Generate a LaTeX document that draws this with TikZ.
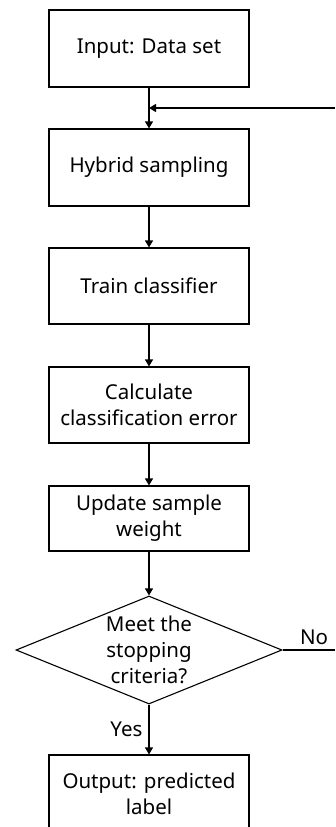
\documentclass[tikz,border=0pt]{standalone}
\usepackage{fontspec}
\setmainfont{Noto Sans}
\usetikzlibrary{shapes.geometric,arrows.meta}
\begin{document}
\begin{tikzpicture}[x=1pt,y=-1pt,
  line width=1.1pt,
  txt/.style={font=\fontsize{20.5}{26}\selectfont, align=center, inner sep=0pt},
  stepbox/.style={txt, draw, rectangle, minimum width=200pt},
  decision/.style={txt, draw, diamond, aspect=2.46, minimum width=266pt, minimum height=108pt, inner sep=0pt},
  flow/.style={-{Triangle[length=7pt,width=8pt]}}]
  \useasboundingbox (0,0) rectangle (335,827);
  \clip (0,0) rectangle (335,827);

  % process steps
  \node[stepbox, minimum height=77pt] (input) at (149,48.5) {Input: Data set};
  \node[stepbox, minimum height=77pt] (hybrid) at (149,167.5) {Hybrid sampling};
  \node[stepbox, minimum height=76pt] (train) at (149,286) {Train classifier};
  \node[stepbox, minimum height=76pt] (calc) at (149,405) {Calculate\\classification error};
  \node[stepbox, minimum height=65pt] (update) at (149,518.5) {Update sample\\weight};
  \node[decision] (stop) at (149,650) {};
  \node[txt] at (149,650) {Meet the\\stopping\\criteria?};
  \node[stepbox, minimum height=77pt] (output) at (149,793.5) {Output: predicted\\label};

  % loop entry and exit points
  \coordinate (join) at (149,108);
  \coordinate (loopin) at (335,108);
  \coordinate (loopout) at (335,650);

  % connectors
  \draw[flow] (input) -- (hybrid);
  \draw[flow] (loopin) -- (join);
  \draw[flow] (hybrid) -- (train);
  \draw[flow] (train) -- (calc);
  \draw[flow] (calc) -- (update);
  \draw[flow] (update) -- (stop.north);
  \draw[flow] (stop.south) -- node[txt, left=6pt] {Yes} (output);
  \draw (stop.east) -- node[txt, above=5pt, pos=0.6] {No} (loopout);
\end{tikzpicture}
\end{document}
